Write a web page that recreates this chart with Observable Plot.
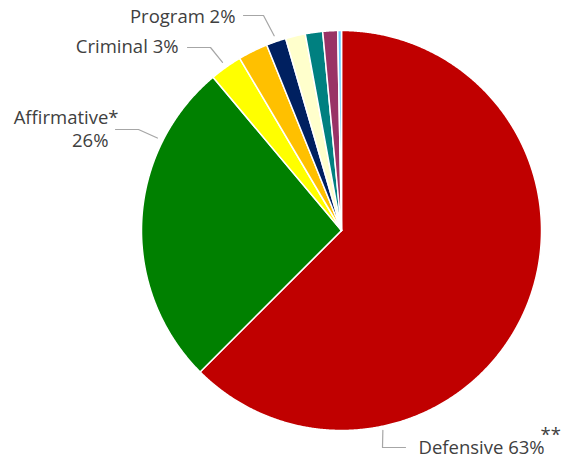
<!DOCTYPE html>
<html>
<head>
<meta charset="utf-8">
<script src="https://cdn.jsdelivr.net/npm/d3@7"></script>
<script src="https://cdn.jsdelivr.net/npm/@observablehq/plot@0.6"></script>
<style>
  html, body { margin: 0; padding: 0; background: #fff; }
  #chart svg { display: block; }
</style>
</head>
<body>
<div id="chart"></div>
<script>
// Slices clockwise from 12 o'clock
const categories = ["Defensive", "Affirmative", "Criminal", "Other 1", "Program", "Other 2", "Other 3", "Other 4", "Other 5"];
const shares = [62.5, 26.4, 2.6, 2.4, 1.6, 1.6, 1.4, 1.2, 0.3];
const sliceColors = ["#C00000", "#008000", "#FFFF00", "#FFC000", "#002060", "#FFFFCC", "#008080", "#993366", "#66CCFF"];
const labelText = {Defensive: "Defensive 63%", Affirmative: "Affirmative*", Criminal: "Criminal 3%", Program: "Program 2%"};
const secondLine = {Affirmative: "26%"};
const footnoteMark = {Defensive: "**"};

// ---- geometry built from the data ----
const pie = d3.pie().sort(null).value(d => d.v).startAngle(0).endAngle(2 * Math.PI);
const arcs = pie(categories.map((c, i) => ({name: c, v: shares[i]})));
const pts = [];
for (const a of arcs) {
  const name = a.data.name;
  pts.push({name, x: 0, y: 0});
  const n = Math.max(2, Math.ceil((a.endAngle - a.startAngle) / 0.005));
  for (let k = 0; k <= n; k++) {
    const t = a.startAngle + (a.endAngle - a.startAngle) * k / n;
    pts.push({name, x: Math.sin(t), y: Math.cos(t)});
  }
}
const arcOf = name => arcs.find(a => a.data.name === name);
const onSlice = (name, f, r) => {
  const a = arcOf(name);
  const t = a.startAngle + (a.endAngle - a.startAngle) * f;
  return [r * Math.sin(t), r * Math.cos(t)];
};

// label layout (pie-radius units): leader touch point on slice, elbow, end, and text anchor
const layout = [
  {name: "Program", f: 0.5, r: 1.03, elbow: [-0.39, 1.075], end: [-0.49, 1.075], text: [-0.53, 1.0675], anchor: "end"},
  {name: "Criminal", f: 0.5, r: 1.03, elbow: [-0.655, 0.915], end: [-0.77, 0.915], text: [-0.815, 0.9175], anchor: "end"},
  {name: "Affirmative", f: 0.754, r: 1.03, elbow: [-1.015, 0.505], end: [-1.13, 0.505], text: [-1.115, 0.5625], anchor: "end", second: [-1.165, 0.4475]},
  {name: "Defensive", f: 0.748, r: 1.02, elbow: [0.205, -1.085], end: [0.32, -1.085], text: [0.385, -1.0875], anchor: "start", mark: [0.995, -1.0225]}
];
const leaders = [];
layout.forEach(l => {
  const [x0, y0] = onSlice(l.name, l.f, l.r);
  leaders.push({name: l.name, x: x0, y: y0}, {name: l.name, x: l.elbow[0], y: l.elbow[1]}, {name: l.name, x: l.end[0], y: l.end[1]});
});
const labels = layout.map(l => ({label: labelText[l.name], x: l.text[0], y: l.text[1], anchor: l.anchor}));
const seconds = layout.filter(l => l.second).map(l => ({label: secondLine[l.name], x: l.second[0], y: l.second[1]}));
const marksText = layout.filter(l => l.mark).map(l => ({label: footnoteMark[l.name], x: l.mark[0], y: l.mark[1]}));

const textStyle = {fontFamily: "Open Sans", fontSize: 18.5, fill: "#404040"};

const chart = Plot.plot({
  width: 565,
  height: 462,
  marginLeft: 141,
  marginRight: 24,
  marginTop: 30,
  marginBottom: 32,
  x: {domain: [-1, 1], axis: null},
  y: {domain: [-1, 1], axis: null},
  color: {domain: categories, range: sliceColors},
  style: {fontFamily: "Open Sans", overflow: "visible"},
  marks: [
    Plot.line(pts, {x: "x", y: "y", z: "name", fill: "name", stroke: "white", strokeWidth: 1.5, strokeLinejoin: "round", curve: "linear-closed"}),
    Plot.line(leaders, {x: "x", y: "y", z: "name", stroke: "#A6A6A6", strokeWidth: 1.2}),
    Plot.text(labels.filter(d => d.anchor === "end"), {x: "x", y: "y", text: "label", textAnchor: "end", ...textStyle}),
    Plot.text(labels.filter(d => d.anchor === "start"), {x: "x", y: "y", text: "label", textAnchor: "start", ...textStyle}),
    Plot.text(seconds, {x: "x", y: "y", text: "label", textAnchor: "end", ...textStyle}),
    Plot.text(marksText, {x: "x", y: "y", text: "label", textAnchor: "start", ...textStyle})
  ]
});
document.getElementById("chart").appendChild(chart);
</script>
</body>
</html>
